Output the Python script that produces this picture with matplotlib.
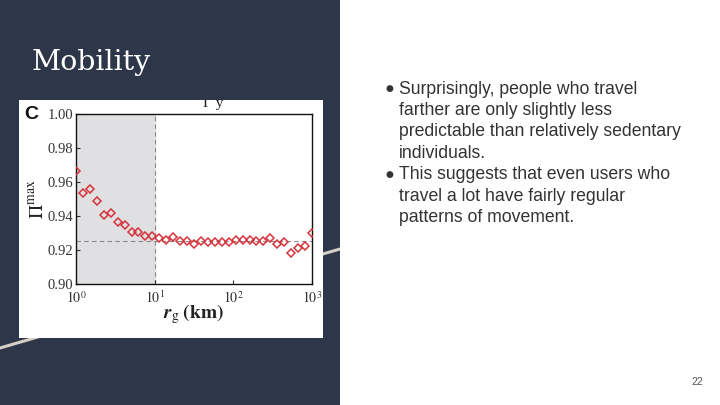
import matplotlib
matplotlib.use("Agg")
import matplotlib.pyplot as plt

plt.rcParams['mathtext.fontset'] = 'stix'

# radius of gyration (km) and max predictability
rg_km = [1.00, 1.225, 1.501, 1.839, 2.254, 2.762, 3.384, 4.146, 5.080, 6.225,
         7.627, 9.346, 11.45, 14.03, 17.19, 21.06, 25.81, 31.62, 38.75, 47.48,
         58.18, 71.29, 87.35, 107.0, 131.1, 160.7, 196.9, 241.3, 295.6, 362.2,
         443.8, 543.8, 666.3, 816.4, 1000.0]
pi_max = [0.9668, 0.9539, 0.9559, 0.9492, 0.9408, 0.9421, 0.9368, 0.9349, 0.9306, 0.9310,
          0.9284, 0.9286, 0.9271, 0.9261, 0.9276, 0.9257, 0.9253, 0.9237, 0.9256, 0.9247,
          0.9247, 0.9247, 0.9247, 0.9261, 0.9261, 0.9261, 0.9256, 0.9253, 0.9274, 0.9235,
          0.9251, 0.9186, 0.9215, 0.9225, 0.9300]
pi_avg = 0.9254
rg_cut = 10

yticks = [0.90, 0.92, 0.94, 0.96, 0.98, 1.00]
xticks = [1, 10, 100, 1000]
xticklabels = ['$10^{0}$', '$10^{1}$', '$10^{2}$', '$10^{3}$']

bullets = [
    ["Surprisingly, people who travel",
     "farther are only slightly less",
     "predictable than relatively sedentary",
     "individuals."],
    ["This suggests that even users who",
     "travel a lot have fairly regular",
     "patterns of movement."],
]

W, H = 720, 405
fig = plt.figure(figsize=(7.2, 4.05), dpi=100)
fig.patch.set_facecolor('white')

def box(x0, y0, x1, y1):
    # pixel box (top-left origin) -> figure fraction rect
    return [x0 / W, 1 - y1 / H, (x1 - x0) / W, (y1 - y0) / H]

# dark left panel
bg = fig.add_axes([0, 0, 340 / W, 1])
bg.set_facecolor('#2e3749')
bg.set_xticks([]); bg.set_yticks([])
for s in bg.spines.values():
    s.set_visible(False)
bg.set_xlim(0, 340); bg.set_ylim(H, 0)
bg.plot([0, 340], [348, 249], color='#d6cfc6', lw=2.2, solid_capstyle='round')

fig.text(32 / W, 1 - 63 / H, 'Mobility', color='white', fontsize=20.5,
         family='DejaVu Serif', va='center', ha='left')

# white box holding the figure
card = fig.add_axes(box(19, 100, 323, 338))
card.set_facecolor('white')
card.set_xticks([]); card.set_yticks([])
for s in card.spines.values():
    s.set_visible(False)
card.set_xlim(19, 323); card.set_ylim(338, 100)
card.text(213, 97, 'Γ y', fontsize=11, family='Liberation Serif', color='#222',
          ha='center', va='top', clip_on=True)
card.text(24, 114, 'C', fontsize=14, fontweight='bold', family='Liberation Sans',
          color='#111', ha='left', va='center')

ax = fig.add_axes(box(76, 114.3, 312, 284.3))
ax.axvspan(1, rg_cut, color='#e0e0e3', zorder=0)
ax.axvline(rg_cut, color='#888888', lw=0.8, ls=(0, (4, 3)), zorder=1)
ax.axhline(pi_avg, color='#888888', lw=0.8, ls=(0, (4, 3)), zorder=1)
ax.plot(rg_km, pi_max, ls='none', marker='D', ms=3.9, mfc='none',
        mec='#d7333c', mew=1.1, zorder=3)
ax.set_xscale('log')
ax.set_xlim(1, 1000)
ax.set_ylim(0.90, 1.00)
ax.set_xticks(xticks)
ax.set_xticklabels(xticklabels)
ax.minorticks_off()
ax.set_yticks(yticks)
ax.set_yticklabels(['%.2f' % v for v in yticks])
ax.tick_params(direction='in', length=3, width=0.8, labelsize=10.5,
               colors='#333333', pad=2)
ax.tick_params(axis='x', labelsize=10, pad=4)
for lab in ax.get_yticklabels():
    lab.set_family('Liberation Serif')
for s in ax.spines.values():
    s.set_linewidth(1.0)
    s.set_color('#111111')
ax.set_ylabel(r'$\Pi^{\rm max}$', fontsize=14, color='#222', labelpad=0)
ax.set_xlabel(r'$\boldsymbol{r}_{\rm g}\;\mathbf{(km)}$', fontsize=14,
              color='#222', labelpad=-3)

# bullet text
y = 89
for para in bullets:
    fig.text(385 / W, 1 - y / H, '●', fontsize=6.5, color='#333333',
             family='DejaVu Sans', va='center', ha='left')
    for line in para:
        fig.text(399 / W, 1 - y / H, line, fontsize=12.7, color='#333333',
                 family='Liberation Sans', va='center', ha='left')
        y += 21.4

fig.text(703 / W, 1 - 382 / H, '22', fontsize=7.5, color='#555555',
         family='Liberation Sans', va='center', ha='right')

fig.savefig('out.png', dpi=100, facecolor='white')
